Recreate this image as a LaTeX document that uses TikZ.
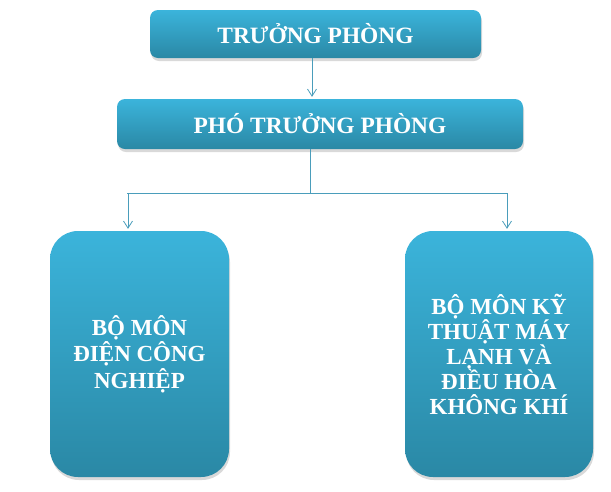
\documentclass[tikz,border=0pt]{standalone}
\usepackage{fontspec}
\setmainfont{Liberation Serif}
\usetikzlibrary{arrows.meta,shadows,calc}
\definecolor{boxtop}{HTML}{3BB4DB}
\definecolor{boxbot}{HTML}{2A88A5}
\definecolor{linkcol}{HTML}{4A9DBB}
\begin{document}
\begin{tikzpicture}[
        x = 1pt, y = 1pt,
        box/.style = {rounded corners=#1, top color=boxtop, bottom color=boxbot,
            draw=none, text=white, font=\bfseries, align=center, inner sep=2pt,
            drop shadow={opacity=.3, shadow xshift=1pt, shadow yshift=-3pt}},
        link/.style = {draw=linkcol, line width=.8pt},
        tip/.style = {-{Straight Barb[length=7pt,width=9pt]}, shorten >=2pt}
    ]
        \useasboundingbox (0,0) rectangle (611,-491);
        % the two heads
        \node[box=8pt, minimum width=331, minimum height=48, font=\bfseries\fontsize{23.4}{27}\selectfont]
            (truong) at (315.5,-34) {TRƯỞNG PHÒNG};
        \node[box=8pt, minimum width=406, minimum height=50, font=\bfseries\fontsize{23.4}{27}\selectfont]
            (pho) at (320,-124) {PHÓ TRƯỞNG PHÒNG};
        % the two sections
        \node[box=28pt, minimum width=179, minimum height=246, font=\bfseries\fontsize{23}{26.5}\selectfont]
            (dien) at (139.5,-354) {BỘ MÔN\\ĐIỆN CÔNG\\NGHIỆP};
        \node[box=28pt, minimum width=188, minimum height=246, font=\bfseries\fontsize{23}{25}\selectfont]
            (lanh) at (499,-354) {BỘ MÔN KỸ\\THUẬT MÁY\\LẠNH VÀ\\ĐIỀU HÒA\\KHÔNG KHÍ};
        % links
        \draw[link, tip] (truong.south -| 312,0) -- (pho.north -| 312,0);
        \coordinate (split) at (310,-193);
        \coordinate (left) at (128,-193);
        \coordinate (right) at (507,-193);
        \draw[link] (pho.south -| split) -- (split);
        \draw[link] ($(left)+(-1,0)$) -- ($(right)+(1,0)$);
        \draw[link, tip] (left) -- (left |- dien.north);
        \draw[link, tip] (right) -- (right |- lanh.north);
    \end{tikzpicture}
\end{document}
